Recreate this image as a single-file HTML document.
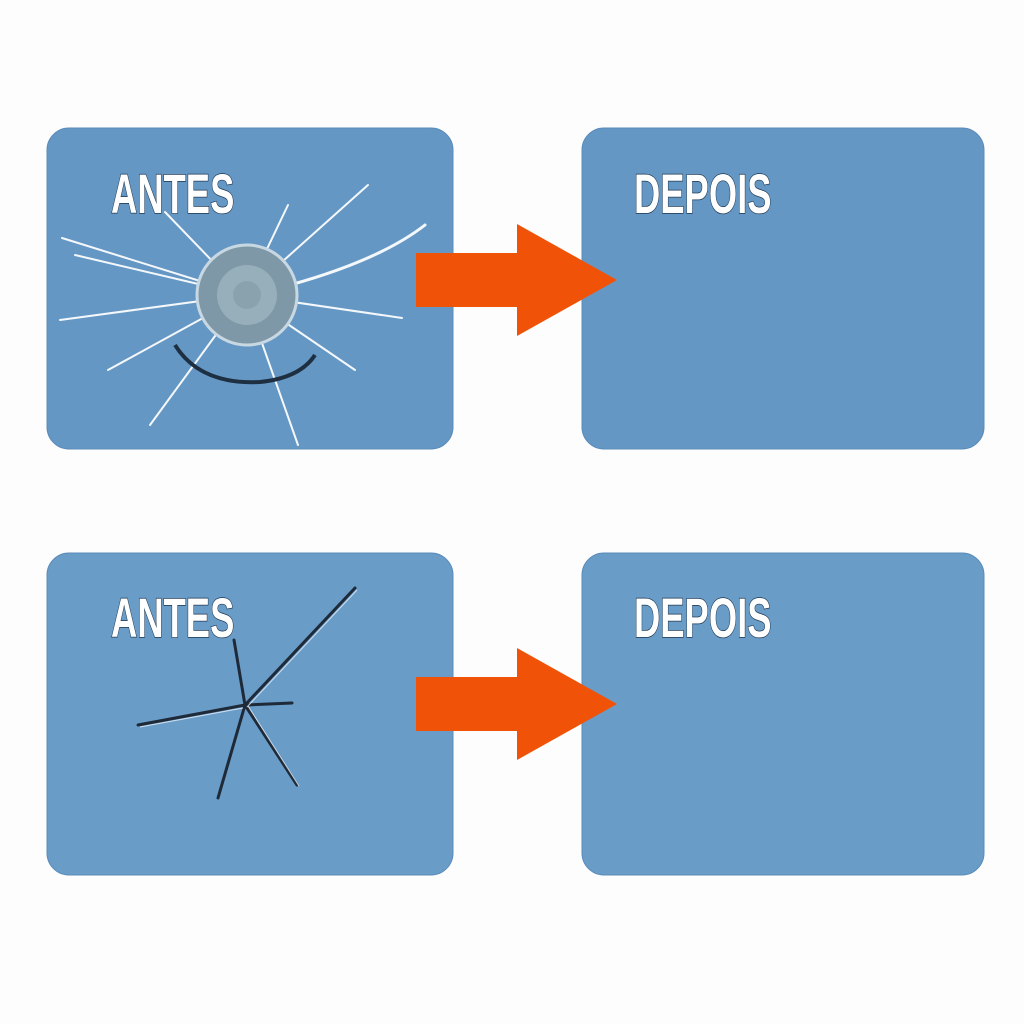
<!DOCTYPE html>
<html><head><style>body{margin:0;background:#fdfdfd}svg{display:block}</style></head><body>
<svg width="1024" height="1024" viewBox="0 0 1024 1024" xmlns="http://www.w3.org/2000/svg">
<rect width="1024" height="1024" fill="#fdfdfd"/>
<g fill="#6597c5" stroke="#5a8cbb" stroke-width="1">
<rect x="47" y="128" width="406" height="321" rx="22"/>
<rect x="582" y="128" width="402" height="321" rx="22"/>
<rect x="47" y="553" width="406" height="322" rx="22" fill="#6a9cc8"/>
<rect x="582" y="553" width="402" height="322" rx="22" fill="#6a9cc8"/>
</g>
<g fill="#f05308">
<polygon points="416,253 517,253 517,224 617,280 517,336 517,307 416,307"/>
<polygon points="416,677 517,677 517,648 617,704 517,760 517,731 416,731"/>
</g>
<g font-family="Liberation Sans, sans-serif" font-weight="bold" font-size="56" fill="#fff" stroke="#1c3550" stroke-width="1.5" paint-order="stroke">
<text transform="translate(111,213) scale(0.65,1)">ANTES</text>
<text transform="translate(634,213) scale(0.65,1)">DEPOIS</text>
<text transform="translate(111,637) scale(0.65,1)">ANTES</text>
<text transform="translate(634,637) scale(0.65,1)">DEPOIS</text>
</g>
<!-- top crack -->
<g stroke="#f4f8fb" stroke-linecap="round">
<path d="M245,295 L62,238 M245,295 L75,255 M245,295 L60,320 M245,295 L108,370 M245,295 L150,425 M245,295 L298,445 M245,295 L355,370 M245,295 L402,318 M245,295 L368,185 M245,295 L288,205 M245,295 L165,212" stroke-width="2"/>
<path d="M290,285 Q380,260 425,225" stroke-width="3" fill="none"/>
</g>
<path d="M175,345 Q200,385 260,382 Q300,378 315,355" fill="none" stroke="#1d2f40" stroke-width="4"/>
<circle cx="247" cy="295" r="50" fill="#7e98a8" stroke="#c8d8e2" stroke-width="3"/>
<circle cx="247" cy="295" r="30" fill="#97aebb"/>
<circle cx="247" cy="295" r="14" fill="#8aa1ae"/>
<!-- bottom crack -->
<g stroke="#1f2a38" stroke-linecap="round">
<path d="M245,705 L355,588 M245,705 L138,725 M245,705 L218,798 M245,705 L297,785 M245,705 L234,640 M245,705 L292,703" stroke-width="3"/>
</g>
<g stroke="#e8f0f7" stroke-width="1" opacity="0.8">
<path d="M247,707 L357,590 M243,708 L140,727 M248,706 L299,786"/>
</g>
</svg>
</body></html>
